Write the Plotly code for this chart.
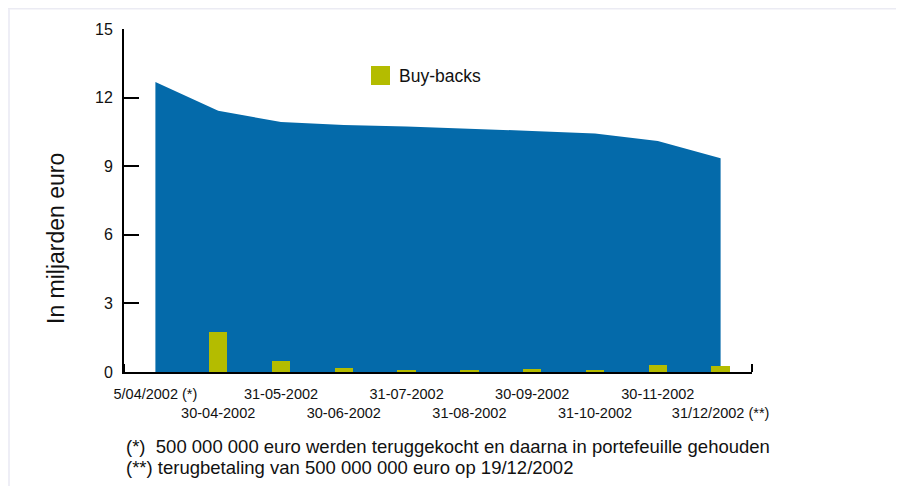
import plotly.graph_objects as go

# ---- data ----
dates = ["5/04/2002 (*)", "30-04-2002", "31-05-2002", "30-06-2002", "31-07-2002",
         "31-08-2002", "30-09-2002", "31-10-2002", "30-11-2002", "31/12/2002 (**)"]
outstanding = [12.68, 11.43, 10.93, 10.80, 10.74, 10.65, 10.54, 10.43, 10.10, 9.35]
buybacks = [0.0, 1.74, 0.47, 0.16, 0.06, 0.09, 0.12, 0.09, 0.32, 0.26]
y_ticks = [0, 3, 6, 9, 12, 15]
y_title = "In miljarden euro"
legend_label = "Buy-backs"
footnotes = ["(*)  500 000 000 euro werden teruggekocht en daarna in portefeuille gehouden",
             "(**) terugbetaling van 500 000 000 euro op 19/12/2002"]

# ---- layout geometry (figure sits 8px into the page) ----
OFF = 8
W, H = 896, 478
L, R, T, B = 116, 152, 21, 114
pw, ph = W - L - R, H - T - B


def px(x):
    """page x pixel -> paper coordinate"""
    return (x - OFF - L) / pw


def py(y):
    """page y pixel -> paper coordinate"""
    return (H - B - (y - OFF)) / ph


FONT = "Liberation Sans, Arial, Helvetica, sans-serif"
BLUE = "#046AAA"
OLIVE = "#B4BC00"
TXT = "#111111"

idx = list(range(len(dates)))
ticktext = [d if i % 2 == 0 else "<br>" + d for i, d in enumerate(dates)]

fig = go.Figure()
fig.add_trace(go.Scatter(x=idx, y=outstanding, mode="lines", line=dict(width=0, color=BLUE),
                         fill="tozeroy", fillcolor=BLUE, showlegend=False, hoverinfo="y"))
fig.add_trace(go.Bar(x=idx, y=buybacks, width=0.29, marker=dict(color=OLIVE, line=dict(width=0)),
                     xaxis="x2", yaxis="y2", showlegend=False, hoverinfo="y"))

shapes = [
    dict(type="rect", xref="paper", yref="paper", x0=px(OFF), x1=px(OFF + W), y0=py(9.5), y1=py(OFF),
         fillcolor="#EBEBF3", line=dict(width=0), layer="below"),
    dict(type="rect", xref="paper", yref="paper", x0=px(OFF), x1=px(10), y0=py(OFF + H), y1=py(9),
         fillcolor="#EEEEF6", line=dict(width=0), layer="below"),
    dict(type="rect", xref="paper", yref="paper", x0=px(371), x1=px(390), y0=py(85), y1=py(66),
         fillcolor=OLIVE, line=dict(width=0)),
]

annotations = [
    dict(text=legend_label, xref="paper", yref="paper", x=px(397), y=py(76), xanchor="left",
         yanchor="middle", showarrow=False, font=dict(size=17.5, color=TXT, family=FONT)),
    dict(text=y_title, xref="paper", yref="paper", x=px(56), y=py(239), xanchor="center",
         yanchor="middle", textangle=-90, showarrow=False,
         font=dict(size=23, color=TXT, family=FONT)),
]
for k, t in enumerate(footnotes):
    annotations.append(dict(text=t, xref="paper", yref="paper", x=px(124), y=py(446 + 21 * k),
                            xanchor="left", yanchor="middle", showarrow=False,
                            font=dict(size=18.5, color=TXT, family=FONT)))

fig.update_layout(
    width=W, height=H,
    margin=dict(l=L, r=R, t=T, b=B, pad=0),
    paper_bgcolor="white", plot_bgcolor="white",
    font=dict(family=FONT, color=TXT),
    bargap=0,
    xaxis=dict(range=[-0.5, 9.5], tickmode="array", tickvals=idx, ticktext=ticktext,
               tickangle=0, ticks="", showgrid=False, zeroline=False, showline=True,
               linecolor="black", linewidth=2, layer="below traces",
               tickfont=dict(size=14.5, color=TXT), ticklabelstandoff=8,
               minor=dict(tickmode="array", tickvals=[i - 0.5 for i in range(len(dates) + 1)],
                          ticks="inside", ticklen=8, tickwidth=2, tickcolor="black", showgrid=False)),
    yaxis=dict(range=[0, 15], tickmode="array", tickvals=y_ticks, ticks="inside", ticklen=15,
               tickwidth=2, tickcolor="black", showline=True, linecolor="black", linewidth=2,
               showgrid=False, zeroline=False, tickfont=dict(size=16, color=TXT),
               ticklabelstandoff=6),
    xaxis2=dict(range=[-0.5, 9.5], overlaying="x", visible=False),
    yaxis2=dict(range=[0, 15], overlaying="y", visible=False),
    shapes=shapes,
    annotations=annotations,
)

fig.write_html("out.html")
